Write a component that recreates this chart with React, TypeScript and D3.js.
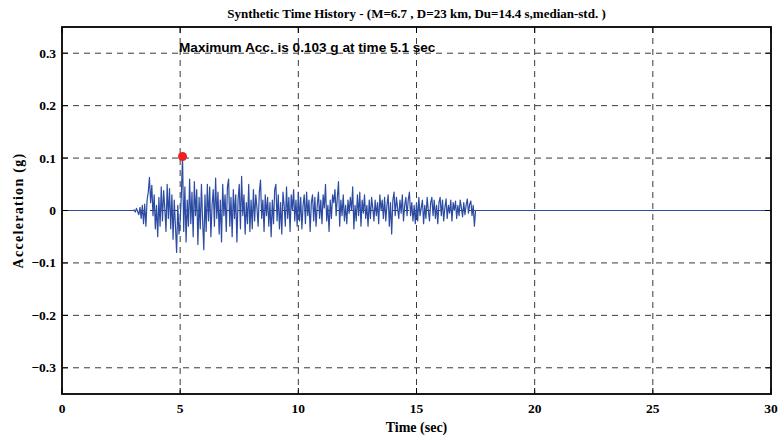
import React from "react";
import * as d3 from "d3";

const titleText = "Synthetic Time History - (M=6.7 , D=23 km, Du=14.4 s,median-std. )";
const annotationText = "Maximum Acc. is 0.103 g at time 5.1 sec";
const xLabel = "Time (sec)";
const yLabel = "Acceleration (g)";
const xTicks = [0, 5, 10, 15, 20, 25, 30];
const yTicks = [-0.3, -0.2, -0.1, 0, 0.1, 0.2, 0.3];
const xDomain = [0, 30];
const yDomain = [-0.35, 0.35];

const startTime = 3.0;
const dt = 0.05;
const accel = [
  0.000, 0.001, -0.003, 0.004, -0.002, -0.008, 0.006, -0.015, 0.010, -0.025, 0.012, -0.030, 0.020, 0.035, 0.063, 0.015, 0.048, -0.010, 0.030, -0.035,
  0.010, -0.050, 0.025, -0.030, 0.045, -0.020, 0.038, 0.005, -0.040, 0.050, -0.015, 0.042, -0.035, 0.030, -0.055, 0.020, -0.030, -0.080, 0.010, -0.045,
  -0.020, 0.030, 0.103, -0.040, 0.045, -0.060, 0.020, -0.030, 0.060, -0.025, 0.035, -0.050, 0.055, -0.010, 0.040, -0.065, 0.025, -0.035, 0.050, -0.020,
  -0.075, 0.030, -0.040, 0.050, -0.020, 0.045, -0.050, 0.010, 0.040, -0.030, 0.062, -0.015, 0.035, -0.045, 0.020, -0.060, 0.050, -0.010, 0.030, -0.040,
  0.045, 0.060, -0.030, 0.025, -0.050, 0.040, -0.015, 0.030, -0.060, 0.020, 0.050, -0.035, 0.065, -0.010, 0.030, -0.045, 0.015, -0.025, 0.050, -0.040,
  0.020, -0.035, 0.040, -0.020, 0.030, 0.005, -0.030, 0.035, 0.058, -0.015, 0.020, -0.040, 0.030, -0.010, 0.025, -0.030, 0.015, -0.050, 0.020, -0.025,
  0.040, 0.050, -0.020, 0.030, -0.035, 0.015, -0.045, 0.035, 0.010, -0.030, 0.045, -0.015, 0.025, -0.040, 0.030, 0.000, 0.040, -0.020, 0.020, -0.030,
  0.035, -0.020, 0.025, -0.035, 0.010, 0.030, -0.025, 0.035, -0.010, 0.020, -0.040, 0.015, 0.030, -0.020, 0.025, -0.030, 0.010, 0.035, -0.015, 0.020,
  -0.025, 0.030, 0.005, 0.050, -0.020, 0.010, -0.040, 0.020, -0.015, 0.030, 0.015, 0.040, -0.010, 0.025, 0.055, -0.030, 0.020, -0.010, 0.030, -0.020,
  0.010, -0.025, 0.020, -0.005, 0.025, 0.000, 0.045, -0.035, 0.010, -0.020, 0.030, -0.010, 0.035, -0.030, 0.020, -0.005, 0.030, -0.015, 0.010, -0.030,
  0.020, -0.015, 0.025, 0.005, -0.020, 0.020, -0.010, 0.015, -0.025, 0.030, 0.000, 0.020, -0.015, 0.025, -0.020, 0.010, 0.030, -0.030, 0.015, -0.045,
  0.020, 0.035, -0.010, 0.025, 0.005, -0.015, 0.020, -0.005, 0.030, -0.020, 0.010, 0.025, -0.010, 0.020, 0.035, -0.010, 0.015, -0.020, 0.010, -0.025,
  0.015, -0.020, 0.025, -0.010, 0.005, 0.020, -0.025, 0.010, -0.015, 0.025, 0.000, -0.020, 0.015, 0.025, -0.010, 0.020, -0.015, 0.010, -0.025, 0.015,
  0.025, -0.010, 0.020, -0.020, 0.005, 0.022, -0.015, 0.010, -0.005, 0.020, -0.020, 0.015, 0.000, 0.018, -0.015, 0.010, -0.010, 0.020, 0.005, -0.012,
  0.015, -0.008, 0.010, 0.022, -0.005, 0.012, 0.018, -0.010, 0.010, -0.030, 0.000,
];
const quietTimes = [0, 30];
const peakTime = 5.1;
const peakAcc = 0.103;

export default function App() {
  const W = 784, H = 441;
  const left = 62, right = 771, top = 27, bottom = 394;
  const x = d3.scaleLinear().domain(xDomain).range([left, right]);
  const y = d3.scaleLinear().domain(yDomain).range([bottom, top]);

  const pts: [number, number][] = [[quietTimes[0], 0]];
  accel.forEach((v, i) => pts.push([startTime + i * dt, v]));
  pts.push([quietTimes[1], 0]);
  const line = d3.line<[number, number]>().x(d => x(d[0])).y(d => y(d[1]));

  const serif = "'Liberation Serif', 'Times New Roman', serif";
  const sans = "'Liberation Sans', Arial, sans-serif";
  const tick = 6;

  return (
    <svg width={W} height={H} style={{ position: "absolute", left: 0, top: 0, background: "#fff" }}>
      <rect x={0} y={0} width={W} height={H} fill="#fff" />
      {/* grid */}
      {xTicks.slice(1, -1).map(t => (
        <line key={"gx" + t} x1={x(t)} x2={x(t)} y1={top} y2={bottom} stroke="#3a3a3a" strokeWidth={1} strokeDasharray="6,5" />
      ))}
      {yTicks.map(t => (
        <line key={"gy" + t} x1={left} x2={right} y1={y(t)} y2={y(t)} stroke="#3a3a3a" strokeWidth={1} strokeDasharray="6,5" />
      ))}
      {/* series */}
      <path d={line(pts) || ""} fill="none" stroke="#2c4ca3" strokeWidth={1.2} strokeLinejoin="round" />
      <circle cx={x(peakTime)} cy={y(peakAcc)} r={4.5} fill="#ee2020" />
      {/* ticks */}
      {xTicks.map(t => (
        <g key={"tx" + t}>
          <line x1={x(t)} x2={x(t)} y1={bottom} y2={bottom - tick} stroke="#000" strokeWidth={1} />
          <line x1={x(t)} x2={x(t)} y1={top} y2={top + tick} stroke="#000" strokeWidth={1} />
          <text x={x(t)} y={bottom + 19} textAnchor="middle" fontFamily={serif} fontWeight="bold" fontSize={13.5}>{t}</text>
        </g>
      ))}
      {yTicks.map(t => (
        <g key={"ty" + t}>
          <line x1={left} x2={left + tick} y1={y(t)} y2={y(t)} stroke="#000" strokeWidth={1} />
          <line x1={right} x2={right - tick} y1={y(t)} y2={y(t)} stroke="#000" strokeWidth={1} />
          <text x={left - 6} y={y(t) + 4.5} textAnchor="end" fontFamily={serif} fontWeight="bold" fontSize={13.5}>{t === 0 ? "0" : d3.format(".1f")(t)}</text>
        </g>
      ))}
      {/* box */}
      <rect x={left} y={top} width={right - left} height={bottom - top} fill="none" stroke="#000" strokeWidth={1.8} />
      {/* annotation */}
      <text x={179} y={52} fontFamily={sans} fontWeight="bold" fontSize={13.6}>{annotationText}</text>
      {/* title & labels */}
      <text x={(left + right) / 2} y={18} textAnchor="middle" fontFamily={serif} fontWeight="bold" fontSize={13}>{titleText}</text>
      <text x={(left + right) / 2} y={432} textAnchor="middle" fontFamily={serif} fontWeight="bold" fontSize={14}>{xLabel}</text>
      <text transform={`translate(23,${(top + bottom) / 2}) rotate(-90)`} textAnchor="middle" fontFamily={serif} fontWeight="bold" fontSize={14} letterSpacing={1.3}>{yLabel}</text>
    </svg>
  );
}
